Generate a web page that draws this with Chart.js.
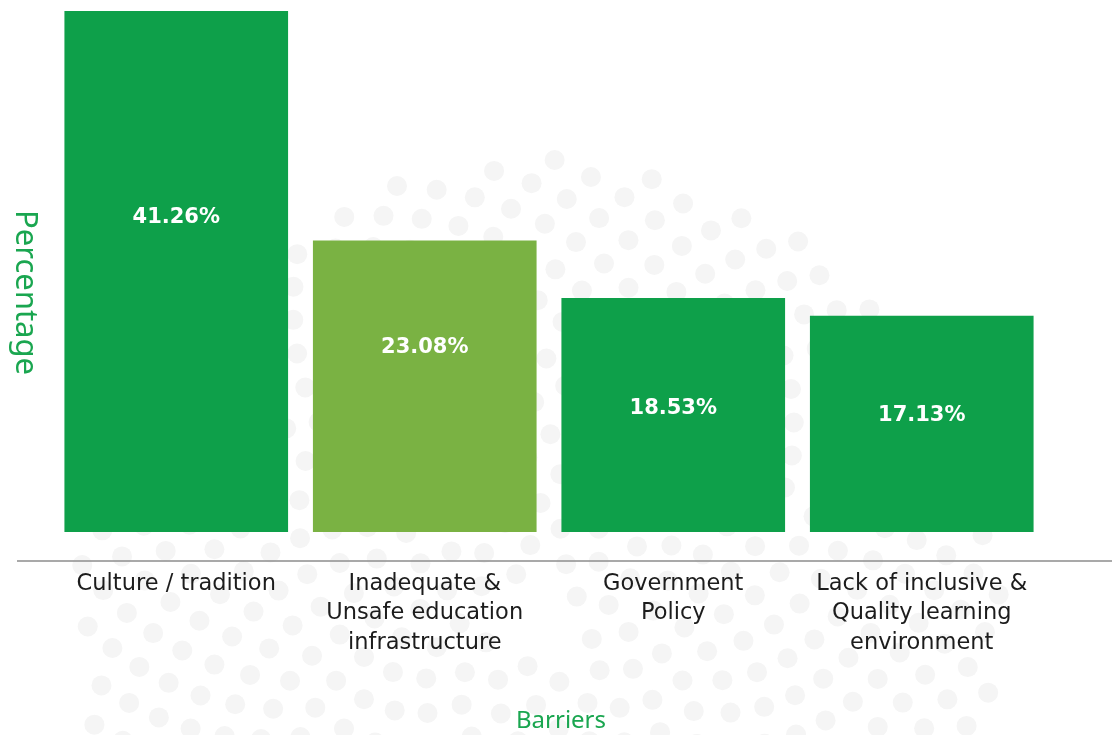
<!DOCTYPE html>
<html>
<head>
<meta charset="utf-8">
<title>Barriers</title>
<script src="https://cdn.jsdelivr.net/npm/chart.js@4.4.1/dist/chart.umd.min.js"></script>
<style>
  html, body { margin: 0; padding: 0; background: #fff; }
  #wrap { width: 1112px; height: 735px; }
</style>
</head>
<body>
<div id="wrap"><canvas id="chart" width="1112" height="735"></canvas></div>
<script>
// barrier categories and their share in percent
const barriers = [
  ['Culture / tradition'],
  ['Inadequate &', 'Unsafe education', 'infrastructure'],
  ['Government', 'Policy'],
  ['Lack of inclusive &', 'Quality learning', 'environment']
];
const shares = [41.26, 23.08, 18.53, 17.13];
// height (in % units) where each value label sits inside its bar
const labelLevels = [24.9, 14.6, 9.8, 9.2];

const GREEN = '#0ea04a';
const LIGHT_GREEN = '#7ab243';
const TITLE_GREEN = '#1aa650';
const FONT = '"Noto Sans"';
const barColors = [GREEN, LIGHT_GREEN, GREEN, GREEN];

// faint dotted backdrop behind the plot
const dotBackdrop = {
  id: 'dotBackdrop',
  beforeDraw(chart) {
    const ctx = chart.ctx;
    ctx.save();
    ctx.fillStyle = '#fff';
    ctx.fillRect(0, 0, chart.width, chart.height);
    ctx.fillStyle = '#f5f5f5';
    const cx = 540, cy = 620, step = 19.5;
    const golden = Math.PI * (3 - Math.sqrt(5));
    for (let n = 5; n < 560; n++) {
      const r = step * Math.sqrt(n);
      const a = n * golden;
      const x = cx + r * Math.cos(a);
      const y = cy + r * Math.sin(a);
      if (y > chart.height + 10) continue;
      ctx.beginPath();
      ctx.arc(x, y, 10, 0, Math.PI * 2);
      ctx.fill();
    }
    ctx.restore();
  }
};

// long grey baseline under the bars and both axis titles
const frame = {
  id: 'frame',
  afterDraw(chart) {
    const ctx = chart.ctx;
    const area = chart.chartArea;
    ctx.save();
    ctx.strokeStyle = '#8c8c8c';
    ctx.lineWidth = 1.5;
    ctx.beginPath();
    ctx.moveTo(17, chart.scales.x.top);
    ctx.lineTo(chart.width, chart.scales.x.top);
    ctx.stroke();

    ctx.fillStyle = TITLE_GREEN;
    ctx.textAlign = 'center';
    ctx.textBaseline = 'middle';
    ctx.font = '24px ' + FONT;
    ctx.fillText('Barriers', (area.left + area.right) / 2 + 12, chart.height - 14);

    ctx.translate(25, (area.top + area.bottom) / 2 + 12);
    ctx.rotate(Math.PI / 2);
    ctx.font = '31px ' + FONT;
    ctx.fillText('Percentage', 0, 0);
    ctx.restore();
  }
};

// white percentage labels inside the bars
const valueLabels = {
  id: 'valueLabels',
  afterDatasetsDraw(chart) {
    const ctx = chart.ctx;
    const y = chart.scales.y;
    const meta = chart.getDatasetMeta(0);
    ctx.save();
    ctx.fillStyle = '#fff';
    ctx.font = 'bold 21px "DejaVu Sans"';
    ctx.textAlign = 'center';
    ctx.textBaseline = 'middle';
    meta.data.forEach((bar, i) => {
      ctx.fillText(shares[i].toFixed(2) + '%', bar.x, y.getPixelForValue(labelLevels[i]));
    });
    ctx.restore();
  }
};

new Chart(document.getElementById('chart'), {
  type: 'bar',
  data: {
    labels: barriers,
    datasets: [{
      data: shares,
      backgroundColor: barColors,
      borderWidth: 0,
      categoryPercentage: 1,
      barPercentage: 0.9
    }]
  },
  options: {
    responsive: false,
    devicePixelRatio: 1,
    animation: false,
    layout: { padding: { left: 52, right: 66, top: 0, bottom: 0 } },
    plugins: {
      legend: { display: false },
      tooltip: { enabled: false }
    },
    scales: {
      y: {
        display: false,
        min: -2.3,
        max: 42.13
      },
      x: {
        grid: { display: false },
        border: { display: false },
        ticks: {
          color: '#1c1c1c',
          font: { family: 'DejaVu Sans', size: 22.5, lineHeight: 1.31 },
          padding: 0,
          maxRotation: 0,
          autoSkip: false
        },
        afterFit(scale) { scale.height = 174; }
      }
    }
  },
  plugins: [dotBackdrop, frame, valueLabels]
});
</script>
</body>
</html>
